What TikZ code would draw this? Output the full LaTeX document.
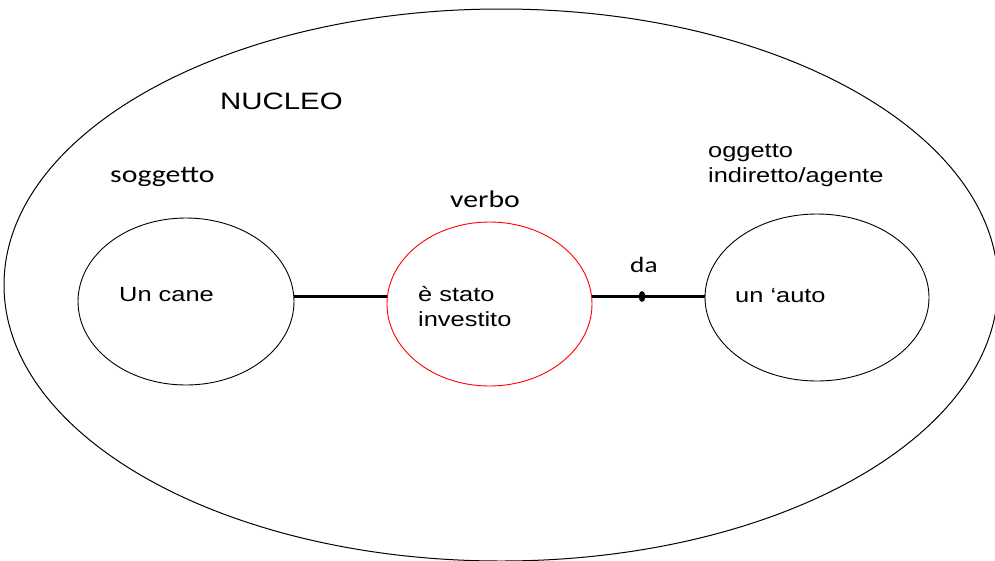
\documentclass[tikz,border=0pt]{standalone}
\usepackage{fontspec}
\usetikzlibrary{shapes.geometric}
\newfontfamily\arialf[FakeStretch=1.24]{Liberation Sans}
\newfontfamily\calf[FakeStretch=1.24]{Carlito}
\tikzset{
  arialtext/.style={font=\arialf\fontsize{20.5pt}{25pt}\selectfont, inner sep=0pt, anchor=base west, align=left},
  caltext/.style={font=\calf\fontsize{24pt}{28pt}\selectfont, inner sep=0pt, anchor=base west},
  roleellipse/.style={ellipse, draw=black, line width=0.9pt, inner sep=0pt},
  conn/.style={line width=2.6pt},
}
\begin{document}
\begin{tikzpicture}[x=1pt,y=1pt]
\useasboundingbox (0,0) rectangle (995,-560);
\fill[white] (0,0) rectangle (995,-560);
\begin{scope}
\clip (0,0) rectangle (995,-560);
\draw[line width=1pt] (501,-285) ellipse [x radius=497, y radius=276];
\end{scope}
% titles
\node[arialtext, font=\arialf\fontsize{23.7pt}{28pt}\selectfont] (nucleo) at (220,-109) {NUCLEO};
\node[caltext] (sogg) at (110,-182) {soggetto};
\node[caltext] (verbolab) at (450,-207) {verbo};
\node[caltext, font=\calf\fontsize{22pt}{26pt}\selectfont] (da) at (630,-272) {da};
\node[arialtext] (ogg) at (708,-182) {oggetto\\indiretto/agente};
% ellipses
\node[roleellipse, minimum width=216pt, minimum height=167pt] (cane) at (186,-301.5) {};
\node[roleellipse, draw=red, minimum width=205pt, minimum height=164pt] (verbo) at (489.5,-304) {};
\node[roleellipse, minimum width=224pt, minimum height=167pt] (auto) at (817,-297.5) {};
% texts inside
\node[arialtext] (canetxt) at (119,-301) {Un cane};
\node[arialtext] (verbotxt) at (418,-326) {è stato\\investito};
\node[arialtext] (autotxt) at (735,-302) {un ‘auto};
% connectors
\coordinate (dot) at (642,-296.5);
\draw[conn] (cane.east |- dot) -- (verbo.west |- dot);
\draw[conn] (verbo.east |- dot) -- (auto.west |- dot);
\fill (dot) ellipse [x radius=3.3, y radius=5.5];
\end{tikzpicture}
\end{document}
